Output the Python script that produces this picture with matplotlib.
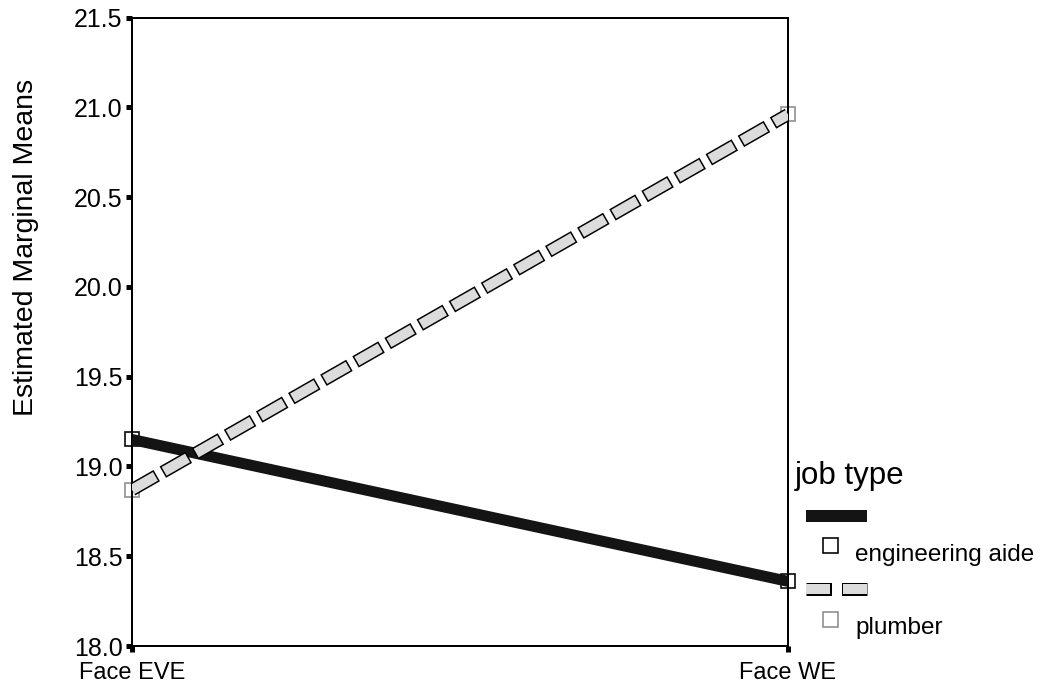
import matplotlib
matplotlib.use("Agg")
import matplotlib.pyplot as plt
from matplotlib.lines import Line2D
import numpy as np

plt.rcParams['font.family'] = ['Liberation Sans', 'DejaVu Sans']
plt.rcParams['lines.scale_dashes'] = False

# data
levels        = ["Face EVE", "Face WE"]
groups        = ["engineering aide", "plumber"]
engMeans      = [19.15, 18.36]
plumberMeans  = [18.87, 20.96]
yTicks        = [18.0, 18.5, 19.0, 19.5, 20.0, 20.5, 21.0, 21.5]

W, H = 1048, 686
PX   = 0.72  # points per pixel at dpi 100

def fx(x): return x / W
def fy(y): return 1 - y / H

fig = plt.figure(figsize=(W / 100, H / 100), dpi=100)
ax  = fig.add_axes([fx(132), fy(646), (788 - 132) / W, (646 - 17.5) / H])

xPos = np.arange(len(levels))

# markers first, lines drawn over them
ax.plot(xPos, engMeans, linestyle="none", marker="s", ms=14 * PX, mfc="white",
        mec="black", mew=1.6 * PX, clip_on=False, zorder=2)
ax.plot(xPos, plumberMeans, linestyle="none", marker="s", ms=14 * PX, mfc="white",
        mec="#8c8c8c", mew=1.6 * PX, clip_on=False, zorder=2)

ax.plot(xPos, engMeans, color="#141414", lw=11 * PX, solid_capstyle="butt", zorder=3)

# outlined grey dashes: black dash a bit longer under a grey dash
dashOn, dashOff, edge = 27, 10, 1.5
ax.plot(xPos, plumberMeans, color="black", lw=13 * PX, dash_capstyle="butt",
        linestyle=(edge * PX, ((dashOn + 2 * edge) * PX, (dashOff - 2 * edge) * PX)), zorder=3)
ax.plot(xPos, plumberMeans, color="#dcdcdc", lw=10 * PX, dash_capstyle="butt",
        linestyle=(0, (dashOn * PX, dashOff * PX)), zorder=3.1)

ax.set_xlim(0, 1)
ax.set_ylim(18.0, 21.5)
ax.set_xticks(xPos)
ax.set_xticklabels(levels)
ax.set_yticks(yTicks)
ax.set_yticklabels([f"{t:.1f}" for t in yTicks])
ax.tick_params(axis="both", direction="out", length=6 * PX, width=5 * PX, color="black")
ax.tick_params(axis="y", pad=2.5, labelsize=18)
ax.tick_params(axis="x", pad=7, labelsize=17)
for spine in ax.spines.values():
    spine.set_linewidth(2 * PX)
    spine.set_color("black")

fig.text(fx(26), fy(247), "Estimated Marginal Means", rotation=90,
         ha="center", va="center", fontsize=20.5)

# legend, SPSS style, placed by hand to the right of the plot
fig.text(fx(795), fy(484), "job type", fontsize=22.5, va="baseline", ha="left")

fig.add_artist(Line2D([fx(806), fx(867)], [fy(516), fy(516)], transform=fig.transFigure,
                      color="#141414", lw=12 * PX, solid_capstyle="butt"))
fig.add_artist(Line2D([fx(830)], [fy(545)], transform=fig.transFigure, linestyle="none",
                      marker="s", ms=15 * PX, mfc="white", mec="black", mew=1.6 * PX))
fig.text(fx(855), fy(561), groups[0], fontsize=17.5, va="baseline", ha="left")

legOn, legOff = 24, 13
fig.add_artist(Line2D([fx(806), fx(867)], [fy(589), fy(589)], transform=fig.transFigure,
                      color="black", lw=13 * PX, dash_capstyle="butt",
                      linestyle=(edge * PX, ((legOn + 2 * edge) * PX, (legOff - 2 * edge) * PX))))
fig.add_artist(Line2D([fx(806), fx(867)], [fy(589), fy(589)], transform=fig.transFigure,
                      color="#dcdcdc", lw=10 * PX, dash_capstyle="butt",
                      linestyle=(0, (legOn * PX, legOff * PX))))
fig.add_artist(Line2D([fx(830)], [fy(619)], transform=fig.transFigure, linestyle="none",
                      marker="s", ms=15 * PX, mfc="white", mec="#8c8c8c", mew=1.6 * PX))
fig.text(fx(855), fy(634), groups[1], fontsize=17.5, va="baseline", ha="left")

fig.savefig("out.png", dpi=100)
